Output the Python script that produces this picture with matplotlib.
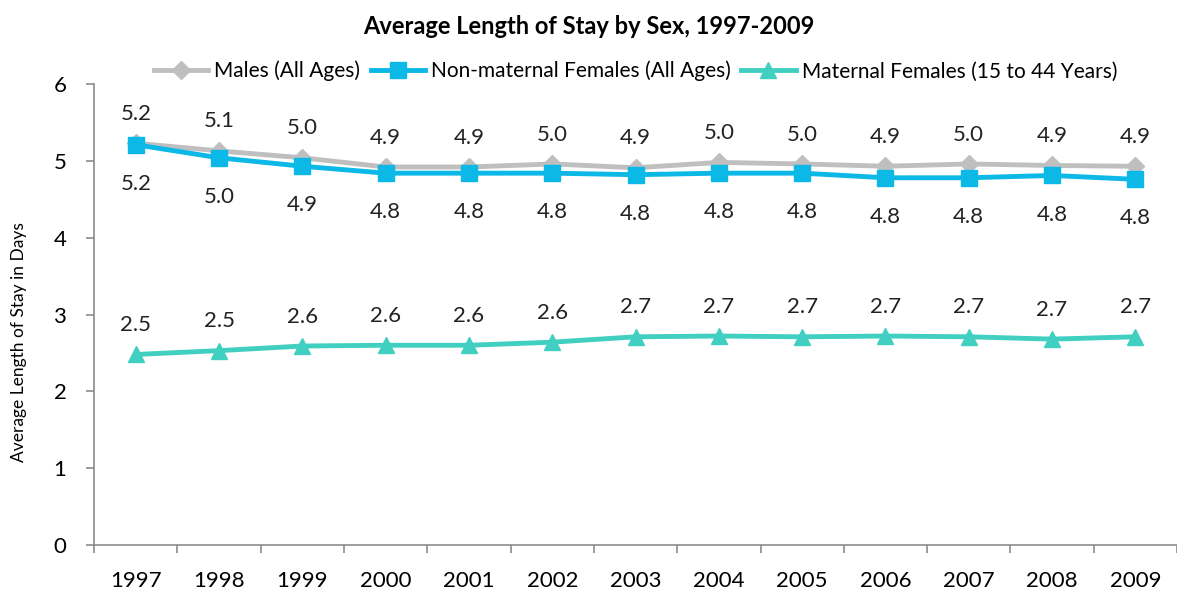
import matplotlib.pyplot as plt
import numpy as np

plt.rcParams['font.family'] = ['Lato', 'DejaVu Sans']

years = ['1997', '1998', '1999', '2000', '2001', '2002', '2003',
         '2004', '2005', '2006', '2007', '2008', '2009']

males = [5.23, 5.13, 5.04, 4.92, 4.92, 4.96, 4.91, 4.98, 4.96, 4.93, 4.96, 4.94, 4.93]
non_maternal = [5.21, 5.04, 4.93, 4.84, 4.84, 4.84, 4.82, 4.84, 4.84, 4.78, 4.78, 4.81, 4.76]
maternal = [2.48, 2.53, 2.59, 2.60, 2.60, 2.64, 2.71, 2.72, 2.71, 2.72, 2.71, 2.68, 2.71]

series = [
    ('Males (All Ages)', males, '#BFBFBF', 'D', 9, 14),
    ('Non-maternal Females (All Ages)', non_maternal, '#0BB8E6', 's', 11, -21),
    ('Maternal Females (15 to 44 Years)', maternal, '#40CFC0', '^', 11, 14),
]

fig = plt.figure(figsize=(11.77, 5.94), dpi=100)
ax = fig.add_axes([0.08, 0.0825, 0.92, 0.776])

x = np.arange(len(years))

for nombre, valores, cor, marc, tam, desloc in series:
    ax.plot(x, valores, color=cor, linewidth=3.5, marker=marc, markersize=tam,
            label=nombre, clip_on=False)
    for xi, v in zip(x, valores):
        ax.annotate(f'{v:.1f}', xy=(xi, v), xytext=(0, desloc),
                    textcoords='offset points', ha='center',
                    va='bottom' if desloc > 0 else 'top',
                    fontsize=16, color='#222222')

ax.set_xlim(-0.5, len(years) - 0.5)
ax.set_ylim(0, 6)
ax.set_yticks(range(0, 7))

ax.set_xticks(np.arange(-0.5, len(years), 1.0))
ax.set_xticklabels([])
ax.set_xticks(x, minor=True)
ax.set_xticklabels(years, minor=True)
ax.tick_params(axis='x', which='major', direction='out', length=6,
               color='#8C8C8C', width=1.2)
ax.tick_params(axis='x', which='minor', length=0, pad=19, labelsize=16)
ax.tick_params(axis='y', direction='out', length=6, color='#8C8C8C',
               width=1.2, labelsize=16, pad=14)

for lado in ['top', 'right']:
    ax.spines[lado].set_visible(False)
for lado in ['left', 'bottom']:
    ax.spines[lado].set_color('#8C8C8C')
    ax.spines[lado].set_linewidth(1.2)

ax.set_ylabel('Average Length of Stay in Days', fontsize=12.5)
ax.yaxis.set_label_coords(-0.062, 0.44)

fig.suptitle('Average Length of Stay by Sex, 1997-2009', fontsize=17,
             fontweight='bold', y=0.975)

ax.legend(loc='lower center', bbox_to_anchor=(0.5, 0.965), ncol=3,
          frameon=False, fontsize=15, handlelength=2.6, columnspacing=0.5,
          handletextpad=0.3)

plt.savefig('out.png', dpi=100)
